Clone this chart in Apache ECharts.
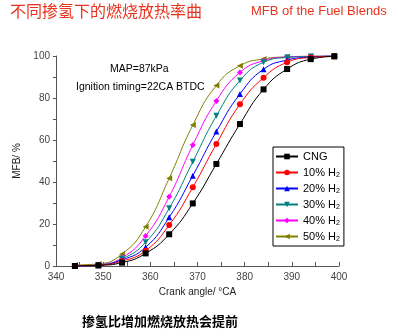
<!DOCTYPE html>
<html><head><meta charset="utf-8">
<script src="https://cdn.jsdelivr.net/npm/echarts@6/dist/echarts.min.js"></script>
<style>html,body{margin:0;padding:0;background:#fff}#c{width:398px;height:336px}</style>
</head><body><div id="c"></div>
<script>
var crankAngle = [344, 349, 354, 359, 364, 369, 374, 379, 384, 389, 394, 399];
var seriesNames = ['CNG', '10% H2', '20% H2', '30% H2', '40% H2', '50% H2'];
var cng  = [0, 0.3, 1.6, 6.0, 15.1, 29.8, 48.6, 67.6, 84.1, 93.8, 98.5, 99.8];
var h10  = [0, 0.4, 2.3, 7.3, 19.5, 37.5, 58.1, 77.0, 89.7, 97.0, 99.3, 99.9];
var h20  = [0, 0.4, 2.9, 8.9, 23.2, 43.0, 64.0, 81.9, 93.7, 98.1, 99.5, 100];
var h30  = [0, 0.5, 3.4, 11.3, 27.5, 49.6, 71.5, 88.3, 97.0, 99.3, 99.8, 100];
var h40  = [0, 0.6, 4.0, 14.3, 33.0, 57.6, 78.6, 92.2, 97.8, 99.5, 99.9, 100];
var h50  = [0.5, 1.0, 5.7, 18.7, 41.8, 67.1, 86.0, 95.4, 98.6, 99.6, 99.9, 100];
var allValues = [cng, h10, h20, h30, h40, h50];
var colors = ['#000000', '#ff0000', '#0000ff', '#008080', '#ff00ff', '#808000'];
var symbols = ['rect', 'circle', 'triangle', 'path://M0,0 L10,0 L5,10 Z', 'diamond', 'path://M0,5 L10,0 L10,10 Z'];

var chart = echarts.init(document.getElementById('c'), null, {renderer: 'canvas'});
var series = seriesNames.map(function (n, i) {
  return {
    name: n, type: 'line', smooth: true,
    data: crankAngle.map(function (x, j) { return [x, allValues[i][j]]; }),
    symbol: symbols[i], symbolSize: 6,
    lineStyle: {width: 1, color: colors[i]},
    itemStyle: {color: colors[i]},
    z: 10 - i
  };
});
var axisFont = {fontFamily: 'Liberation Sans, Arial', fontSize: 10, color: '#444'};
chart.setOption({
  animation: false,
  grid: {left: 56, right: 59, top: 56, bottom: 70},
  xAxis: {
    type: 'value', min: 340, max: 400, interval: 10,
    name: 'Crank angle/ °CA', nameLocation: 'middle', nameGap: 19,
    nameTextStyle: {fontFamily: 'Liberation Sans, Arial', fontSize: 10, color: '#222'},
    axisLine: {lineStyle: {color: '#555'}},
    axisTick: {inside: true, length: 4, lineStyle: {color: '#555'}},
    minorTick: {show: true, splitNumber: 2, length: 4, lineStyle: {color: '#555'}},
    axisLabel: Object.assign({margin: 6}, axisFont),
    splitLine: {show: false}
  },
  yAxis: {
    type: 'value', min: 0, max: 100, interval: 20,
    name: 'MFB/ %', nameLocation: 'middle', nameGap: 28,
    nameTextStyle: {fontFamily: 'Liberation Sans, Arial', fontSize: 10, color: '#222'},
    axisLine: {show: true, lineStyle: {color: '#555'}},
    axisTick: {show: true, length: 3, lineStyle: {color: '#555'}},
    minorTick: {show: true, splitNumber: 2, length: 3, lineStyle: {color: '#555'}},
    axisLabel: Object.assign({margin: 6}, axisFont),
    splitLine: {show: false}
  },
  legend: {
    orient: 'vertical', left: 273, top: 147,
    backgroundColor: '#fff', borderColor: '#000', borderWidth: 1,
    padding: [3, 4, 3, 2], itemWidth: 22, itemHeight: 7, itemGap: 3,
    data: seriesNames,
    formatter: function (n) { return n.replace('H2', 'H{s|2}'); },
    textStyle: {fontFamily: 'Liberation Sans, Arial', fontSize: 11, color: '#000', lineHeight: 13,
      rich: {s: {fontSize: 7, fontFamily: 'Liberation Sans, Arial', verticalAlign: 'bottom', padding: [6, 0, 0, 0], color: '#000'}}}
  },
  graphic: [
    {type: 'text', left: 10, top: 3, style: {text: '不同掺氢下的燃烧放热率曲', fill: '#e8341f', font: '16px "Noto Sans CJK SC"'}},
    {type: 'text', left: 251, top: 5, style: {text: 'MFB of the Fuel Blends', fill: '#e8341f', font: '13px "Liberation Sans", Arial'}},
    {type: 'text', left: 110, top: 64, style: {text: 'MAP=87kPa', fill: '#000', font: '10.5px "Liberation Sans", Arial'}},
    {type: 'text', left: 76, top: 82, style: {text: 'Ignition timing=22CA BTDC', fill: '#000', font: '10.5px "Liberation Sans", Arial'}},
    {type: 'text', left: 82, top: 315, style: {text: '掺氢比增加燃烧放热会提前', fill: '#000', font: 'bold 13px "Noto Sans CJK SC"'}}
  ],
  series: series
});
</script></body></html>
